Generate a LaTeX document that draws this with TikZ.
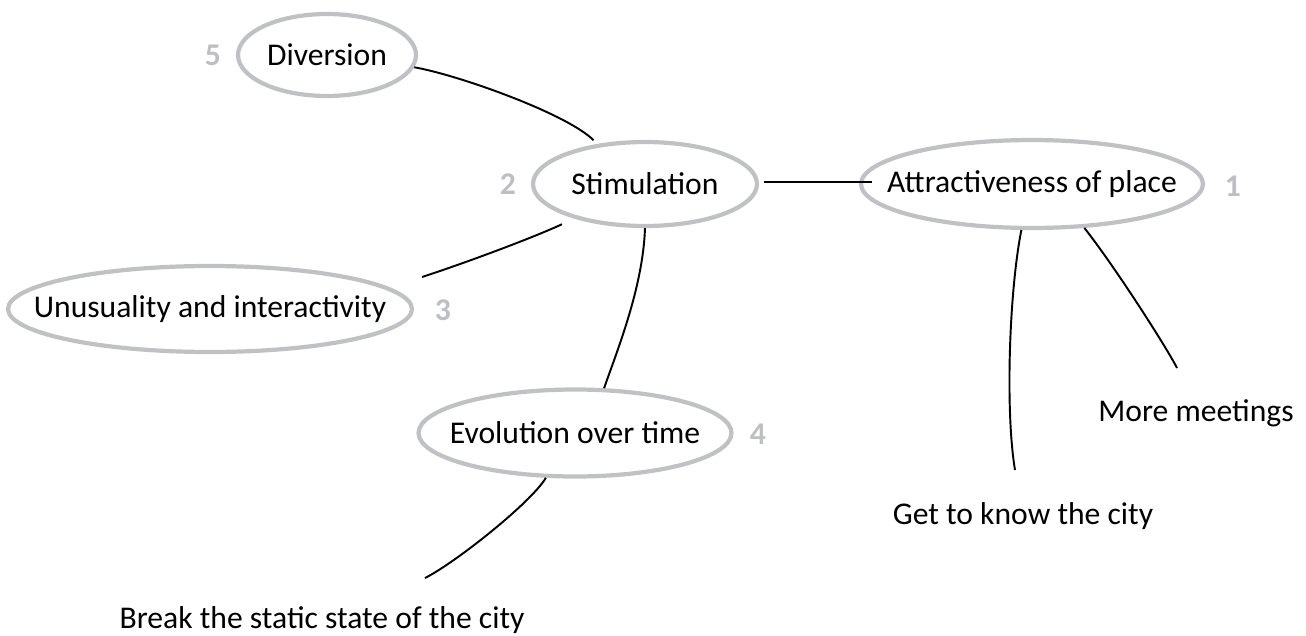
\documentclass[tikz,border=0pt]{standalone}
\usepackage{fontspec}
\setmainfont{Carlito}
\usetikzlibrary{shapes.geometric}
\definecolor{ringgray}{RGB}{192,193,197}
\definecolor{rankgray}{RGB}{190,191,194}

\begin{document}
\begin{tikzpicture}[
    x=0.02cm, y=-0.02cm,
    topic/.style={ellipse, draw=ringgray, line width=2.4pt, inner sep=0pt},
    every label/.style={font=\fontsize{18}{22}\selectfont},
    rank/.style={text=rankgray, font=\fontsize{18}{22}\selectfont\bfseries},
    leaf/.style={font=\fontsize{18}{22}\selectfont},
    link/.style={line width=1.1pt},
]
    \useasboundingbox (0,0) rectangle (1306,636);

    % topics (the ring keeps its own size, the text sits in it as a label)
    \node[topic, minimum width=3.56cm, minimum height=1.64cm, label=center:Diversion] (div) at (327,55) {};
    \node[topic, minimum width=4.48cm, minimum height=1.68cm, label=center:Stimulation] (stim) at (645,184) {};
    \node[topic, minimum width=6.84cm, minimum height=1.76cm, label=center:Attractiveness of place] (attract) at (1032,184) {};
    \node[topic, minimum width=8.08cm, minimum height=1.72cm, label=center:Unusuality and interactivity] (unus) at (210,309) {};
    \node[topic, minimum width=6.26cm, minimum height=1.74cm, label=center:Evolution over time] (evol) at (575,433) {};

    % ranks
    \node[rank] (r1) at (1233,186) {1};
    \node[rank] (r2) at (508,184) {2};
    \node[rank] (r3) at (443,310) {3};
    \node[rank] (r4) at (758,434) {4};
    \node[rank] (r5) at (213,55) {5};

    % outcomes
    \node[leaf] (meet) at (1196,413) {More meetings};
    \node[leaf] (know) at (1023,516) {Get to know the city};
    \node[leaf] (brk) at (322,620) {Break the static state of the city};

    % links
    \draw[link, shorten >=3pt] (div.-8) .. controls +(45,8) and +(-30,-30) .. (stim.140);
    \draw[link] ([shift={(5,-2)}]stim.east) -- ([shift={(13,-2)}]attract.west);
    \draw[link] ([yshift=-0.2cm]stim.200) .. controls +(-30,14) and +(40,-13) .. ([shift={(8,-32)}]unus.east);
    \draw[link] (stim.south) .. controls +(-2,60) and +(12,-35) .. (evol.57);
    \draw[link] (attract.257) .. controls +(-12,60) and +(-10,-60) .. ([shift={(-8,-46)}]know.center);
    \draw[link] (attract.-40) .. controls +(30,38) and +(-10,-20) .. ([shift={(-19,-45)}]meet.center);
    \draw[link] (evol.237) .. controls +(-15,25) and +(30,-15) .. ([shift={(103,-42)}]brk.center);
\end{tikzpicture}
\end{document}
